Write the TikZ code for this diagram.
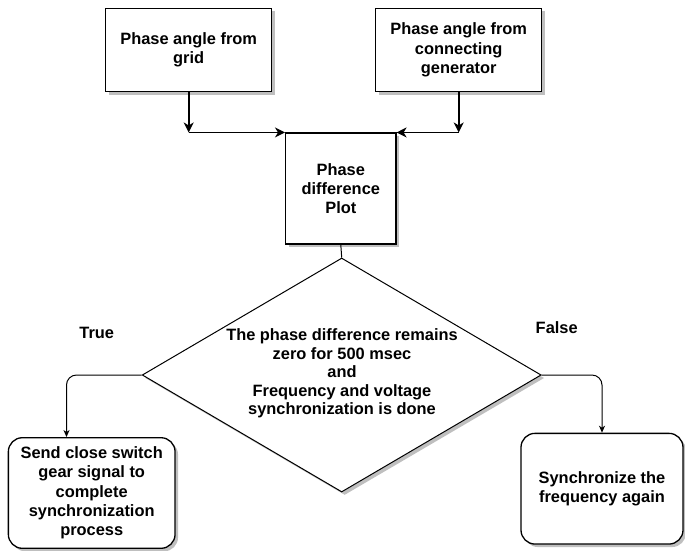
\documentclass[tikz,border=0pt]{standalone}
\usepackage{fontspec}
\setmainfont{Liberation Sans}
\usetikzlibrary{arrows.meta,shadows,shapes.geometric,calc}
\begin{document}
\begin{tikzpicture}[x=1pt,y=-1pt,
  txt/.style={font=\bfseries\fontsize{16.4}{19.3}\selectfont, align=center, inner sep=0pt},
  shad/.style={drop shadow={shadow xshift=3pt,shadow yshift=-3pt,fill=gray!50,opacity=1}},
  boxsq/.style={txt, draw, line width=1.3pt, fill=white, shad, rectangle},
  boxrd/.style={txt, draw, line width=1.3pt, fill=white, shad, rectangle, rounded corners=14pt},
  bigarrow/.style={line width=1.8pt, -{Stealth[length=10pt,width=10pt,inset=3pt]}},
  midarrow/.style={line width=1.3pt, -{Stealth[length=10pt,width=10pt,inset=3pt]}},
  smallarrow/.style={line width=1pt, -{Stealth[length=7pt,width=6pt,inset=2pt]}},
  plainline/.style={line width=1pt},
  lbl/.style={txt}]
\useasboundingbox (0,0) rectangle (685,550);

\node[boxsq, minimum width=166pt, minimum height=83.4pt] (grid) at (188.7,50) {Phase angle from\\grid};
\node[boxsq, minimum width=166pt, minimum height=83.4pt] (gen) at (458.7,50) {Phase angle from\\connecting\\generator};
\node[boxsq, minimum width=110.3pt, minimum height=111pt] (diff) at (340.8,188.6) {Phase\\difference\\Plot};

\node[diamond, draw, line width=1pt, fill=white, shad, minimum width=399pt, minimum height=234pt, inner sep=0pt] (dia) at (341.7,375) {};
\node[txt, font=\bfseries\fontsize{16.4}{18.4}\selectfont] (dtext) at (342,373.5) {The phase difference remains\\zero for 500 msec\\and\\Frequency and voltage\\synchronization is done};

\node[boxrd, minimum width=166.7pt, minimum height=110.6pt] (lb) at (91.7,493) {Send close switch\\gear signal to\\complete\\synchronization\\process};
\node[boxrd, minimum width=162pt, minimum height=110.7pt] (rb) at (602,488.7) {Synchronize the\\frequency again};

\node[lbl] (true) at (96.7,333) {True};
\node[lbl] (false) at (556.7,328) {False};

\coordinate (gl) at (grid.south |- diff.north);
\coordinate (gr) at (gen.south |- diff.north);
\draw[bigarrow] (grid.south) -- (gl);
\draw[midarrow] (gl) -- (diff.north west);
\draw[bigarrow] (gen.south) -- (gr);
\draw[midarrow] (gr) -- (diff.north east);
\draw[plainline] (diff.south) -- (dia.north);
\draw[smallarrow, rounded corners=10pt] (dia.west) -| ($(lb.north)!0.3!(lb.north west)$);
\draw[smallarrow, rounded corners=10pt] (dia.east) -| (rb.north);
\end{tikzpicture}
\end{document}
